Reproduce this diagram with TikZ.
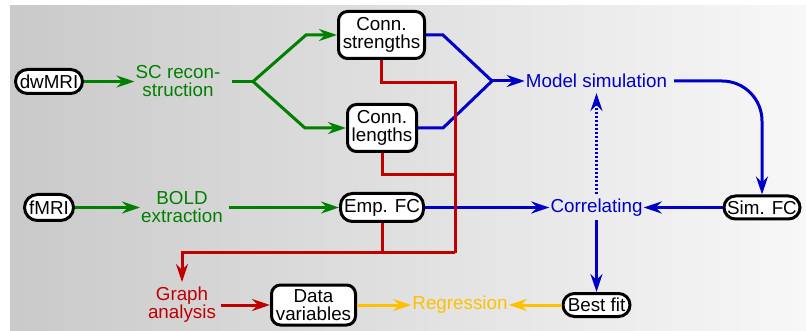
\documentclass[tikz,border=0pt]{standalone}
\usepackage{fontspec}
\setmainfont{Liberation Sans}
\usetikzlibrary{arrows.meta}

\definecolor{cgreen}{RGB}{0,128,0}
\definecolor{cblue}{RGB}{0,0,200}
\definecolor{cred}{RGB}{192,0,0}
\definecolor{corange}{RGB}{255,192,0}

\begin{document}
\begin{tikzpicture}[x=1pt,y=-1pt,
  font=\fontsize{18.8}{18}\selectfont,
  tip/.style={-{Stealth[length=18pt,width=12pt,inset=6pt]}},
  wire/.style={line width=3pt},
  box/.style={draw=black, line width=3pt, fill=white, align=center, inner sep=0pt},
  label/.style={inner sep=1pt, align=center},
]
\useasboundingbox (0,0) rectangle (806,331);
% shaded backdrop
\fill[left color=black!21, right color=black!3] (10,6) rectangle (806,331);

% boxes
\node[box, rounded corners=12pt, minimum width=67pt, minimum height=24pt] (dw) at (49,81.5) {dwMRI};
\node[box, rounded corners=13pt, minimum width=49pt, minimum height=26pt] (fmri) at (49,207.5) {fMRI};
\node[box, rounded corners=9pt, minimum width=86pt, minimum height=47pt] (str) at (381.5,35) {Conn.\\strengths};
\node[box, rounded corners=9pt, minimum width=69pt, minimum height=47pt] (len) at (382,128) {Conn.\\lengths};
\node[box, rounded corners=12pt, minimum width=83pt, minimum height=28pt] (emp) at (382,207.5) {Emp. FC};
\node[box, rounded corners=11.5pt, minimum width=76pt, minimum height=23pt] (sim) at (762,207.5) {Sim. FC};
\node[box, rounded corners=11.5pt, minimum width=67pt, minimum height=23pt] (best) at (596.5,305) {Best fit};
\node[box, rounded corners=9pt, minimum width=84pt, minimum height=40pt] (data) at (313.5,305) {Data\\variables};

% processing steps
\node[label, text=cgreen] (sc) at (178,81.5) {SC recon-\\struction};
\node[label, text=cgreen] (bold) at (182,207.5) {BOLD\\extraction};
\node[label, text=cred] (graph) at (182,305) {Graph\\analysis};
\node[label, text=cblue] (model) at (596.5,81) {Model simulation};
\node[label, text=cblue] (corr) at (596.5,207.5) {Correlating};
\node[label, text=corange] (regr) at (460,305) {Regression};

% structural branch
\coordinate (fork) at (253,81.5);
\draw[wire, cgreen, tip] (dw) -- (sc);
\draw[wire, cgreen] ([xshift=10pt]sc.east) -- (fork);
\draw[wire, cgreen, tip] (fork) -- ([xshift=-31pt]str.west) -- (str.west);
\draw[wire, cgreen, tip] (fork) -- ([xshift=-41pt]len.west) -- (len.west);

% functional branch
\draw[wire, cgreen, tip] (fmri) -- (bold);
\draw[wire, cgreen, tip] ([xshift=5pt]bold.east) -- (emp.west);

% model loop
\coordinate (merge) at (492,81);
\draw[wire, cblue] (str.east) -- ([xshift=17pt]str.east) -- (merge);
\draw[wire, cblue] (len.east) -- ([xshift=25pt]len.east) -- (merge);
\draw[wire, cblue, tip] (merge) -- (model.west);
\draw[wire, cblue, tip, rounded corners=40pt] ([xshift=6pt]model.east) -| (sim.north);
\draw[wire, cblue, tip] (sim) -- (corr);
\draw[wire, cblue, tip] (emp) -- (corr);
\draw[wire, cblue, tip, dash pattern=on 2pt off 2pt] ([yshift=4pt]corr.north) -- ([yshift=-4pt]model.south);
\draw[wire, cblue, tip] ([yshift=-3pt]corr.south) -- (best.north);

% regression
\draw[wire, corange, tip] (best) -- (regr);
\draw[wire, corange, tip] (data) -- (regr);

% graph analysis bus
\coordinate (busTop) at (455,83);
\coordinate (busMid) at (455,175);
\coordinate (busBot) at (455,253);
\draw[wire, cred] (str.south) |- (busTop) -- (busBot);
\draw[wire, cred] (len.south) |- (busMid);
\draw[wire, cred] (emp.south) |- (busBot);
\draw[wire, cred, tip] (busBot) -| ([yshift=4pt]graph.north);
\draw[wire, cred, tip] ([xshift=4pt]graph.east) -- (data.west);
\end{tikzpicture}
\end{document}
